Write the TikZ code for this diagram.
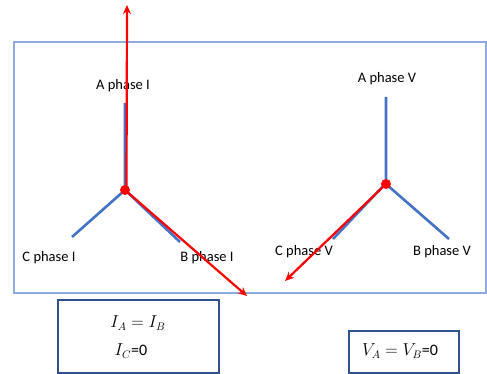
\documentclass[tikz,border=0pt]{standalone}
\usepackage{fontspec}
\setmainfont{Carlito}
\usetikzlibrary{arrows.meta}
\definecolor{phaseblue}{RGB}{68,114,196}
\definecolor{framecol}{RGB}{143,170,220}
\definecolor{boxcol}{RGB}{47,82,143}
\tikzset{
  wire/.style={phaseblue, line width=2.6pt},
  vec/.style={red, line width=2.2pt, -{Stealth[length=9pt,width=8pt]}},
  lbl/.style={font=\fontsize{14.5}{17}\selectfont, inner sep=0pt},
  eqlbl/.style={font=\fontsize{16}{19}\selectfont, inner sep=0pt},
  eqbox/.style={draw=boxcol, line width=1.4pt},
}
\begin{document}
\begin{tikzpicture}[x=1pt,y=-1pt]
\useasboundingbox (0,0) rectangle (487,374);
% outer frame
\draw[framecol, line width=1.3pt] (14,42) rectangle (486,293);
% labels
\node[lbl] (laI) at (123,86) {A phase I};
\node[lbl] (lcI) at (49,258) {C phase I};
\node[lbl] (lbI) at (207,258) {B phase I};
\node[lbl] (laV) at (387,79) {A phase V};
\node[lbl] (lcV) at (304,252) {C phase V};
\node[lbl] (lbV) at (442,252) {B phase V};
% left star (currents)
\coordinate (nI) at (125,190);
\coordinate (aI) at (125,103);
\coordinate (cI) at (72,237);
\coordinate (bI) at (180,242);
\coordinate (tipAI) at (127,5);
\coordinate (tipBI) at (247,296);
\draw[wire] (aI) -- (nI) -- (cI);
\draw[wire] ([xshift=-1pt,yshift=1pt]nI) -- (bI);
\draw[vec] ([xshift=1.5pt]nI) -- (tipAI);
\draw[vec] (nI) -- (tipBI);
\fill[red] (nI) circle (5pt);
% right star (voltages)
\coordinate (nV) at (386,184);
\coordinate (aV) at (386,97);
\coordinate (cV) at (333,239);
\coordinate (bV) at (449,239);
\coordinate (tipCV) at (285,281);
\draw[wire] (aV) -- (nV) -- (bV);
\draw[wire] ([xshift=1pt,yshift=2pt]nV) -- (cV);
\draw[vec] ([xshift=-1pt,yshift=-1pt]nV) -- (tipCV);
\fill[red] (nV) circle (5pt);
% equation boxes
\draw[eqbox] (58,300) rectangle (219,373);
\node[eqlbl] (eq1) at (138,323) {$I_A = I_B$};
\node[eqlbl] (eq2) at (131,351) {$I_C$=0};
\draw[eqbox] (349,331) rectangle (459,373);
\node[eqlbl] (eq3) at (400,351) {$V_A = V_B$=0};
\end{tikzpicture}
\end{document}
